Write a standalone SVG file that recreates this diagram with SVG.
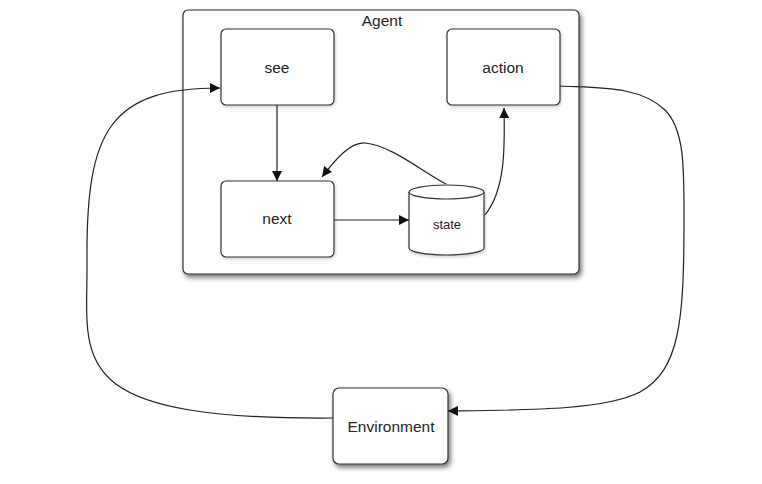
<svg xmlns="http://www.w3.org/2000/svg" width="762" height="484" viewBox="0 0 762 484">
<style>
.box{fill:#fff;stroke:#333;stroke-width:1.2}
.lbl{font-family:"Liberation Sans",Arial,sans-serif;font-size:15.5px;fill:#222;text-anchor:middle}
.edge{fill:none;stroke:#222;stroke-width:1.2}
</style>
<defs>
<filter id="sh" x="-10%" y="-10%" width="125%" height="130%">
<feDropShadow dx="2" dy="3" stdDeviation="2.5" flood-color="#000" flood-opacity="0.55"/>
</filter>
<filter id="sh2" x="-10%" y="-10%" width="125%" height="130%">
<feDropShadow dx="1" dy="1.5" stdDeviation="1.5" flood-color="#000" flood-opacity="0.2"/>
</filter>
<marker id="ah" viewBox="0 0 10 10" refX="10" refY="5" markerWidth="12" markerHeight="10" markerUnits="userSpaceOnUse" orient="auto">
<path d="M0,0 L10,5 L0,10 z" fill="#111"/>
</marker>
</defs>
<rect width="762" height="484" fill="#fff"/>
<g id="agent">
<rect class="box" x="183" y="10" width="396" height="264" rx="5" filter="url(#sh)" stroke-width="1.5"/>
<text class="lbl" x="382" y="26">Agent</text>
</g>
<g id="see">
<rect class="box" x="221" y="29" width="113" height="76" rx="5" filter="url(#sh2)"/>
<text class="lbl" x="277" y="73">see</text>
</g>
<g id="action">
<rect class="box" x="447" y="29" width="113" height="76" rx="5" filter="url(#sh2)"/>
<text class="lbl" x="503" y="73">action</text>
</g>
<g id="next">
<rect class="box" x="221" y="181" width="113" height="76" rx="5" filter="url(#sh2)"/>
<text class="lbl" x="277" y="224">next</text>
</g>
<g id="state">
<path class="box" d="M409,192 L409,248 A37.5,7 0 0 0 484,248 L484,192 A37.5,7 0 0 0 409,192 Z" filter="url(#sh2)"/>
<path d="M409,192 A37.5,7 0 0 0 484,192" fill="none" stroke="#333" stroke-width="1.2"/>
<text class="lbl" x="447" y="229" style="font-size:13px">state</text>
</g>
<g id="environment">
<rect class="box" x="333" y="388" width="115" height="76" rx="6" filter="url(#sh)"/>
<text class="lbl" x="391" y="432">Environment</text>
</g>
<g id="connectors">
<path class="edge" d="M277,105 L277,181" marker-end="url(#ah)"/>
<path class="edge" d="M334,220 L409,220" marker-end="url(#ah)"/>
<path class="edge" d="M446,184 C420,170 390,145 365,143 C350,142 335,160 322,177" marker-end="url(#ah)"/>
<path class="edge" d="M485,215 C505,190 505,150 504,108" marker-end="url(#ah)"/>
<path class="edge" d="M333,418 C60,420 88,360 87,260 C86,130 110,88 220,88" marker-end="url(#ah)"/>
<path class="edge" d="M560,86 C600,88 640,86 665,110 C685,130 684,170 684,220 C684,320 680,370 640,392 C605,410 530,410 448,411" marker-end="url(#ah)"/>
</g>
</svg>
